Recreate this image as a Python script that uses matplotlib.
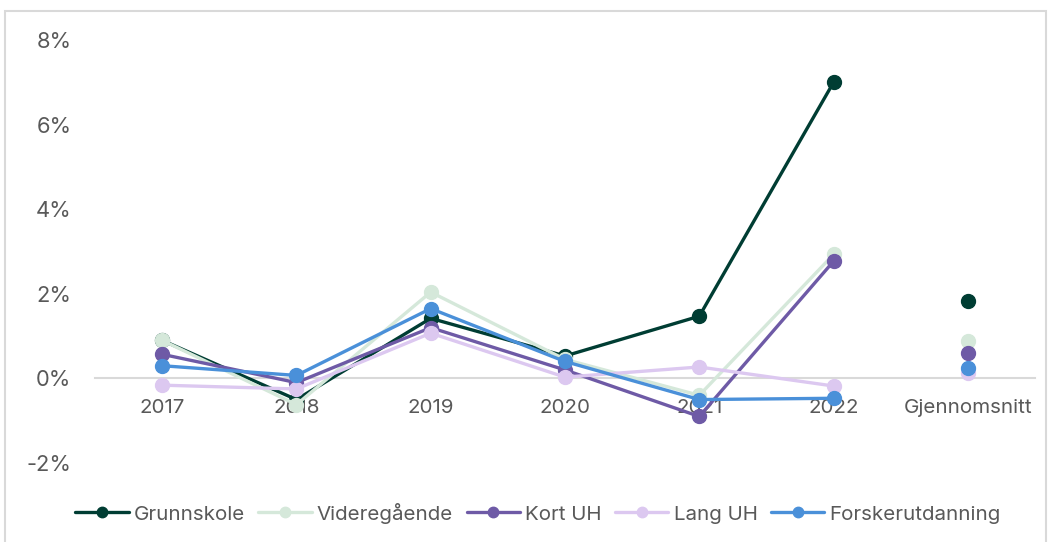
import matplotlib.pyplot as plt
from matplotlib.patches import Rectangle
from matplotlib.ticker import FuncFormatter

categories = ['2017', '2018', '2019', '2020', '2021', '2022', 'Gjennomsnitt']

# yearly values (%) for 2017-2022, then the average point
grunnskole = [0.90, -0.50, 1.42, 0.53, 1.47, 7.00]
grunnskole_avg = 1.82
videregaende = [0.90, -0.62, 2.04, 0.45, -0.40, 2.93]
videregaende_avg = 0.88
kort_uh = [0.57, -0.10, 1.20, 0.20, -0.90, 2.77]
kort_uh_avg = 0.61
lang_uh = [-0.16, -0.25, 1.07, 0.03, 0.27, -0.18]
lang_uh_avg = 0.12
forsker = [0.30, 0.07, 1.65, 0.40, -0.50, -0.47]
forsker_avg = 0.24

series = [
    ('Grunnskole', grunnskole, grunnskole_avg, '#003D33'),
    ('Videregående', videregaende, videregaende_avg, '#D5E8DA'),
    ('Kort UH', kort_uh, kort_uh_avg, '#6E5AA6'),
    ('Lang UH', lang_uh, lang_uh_avg, '#DCC8F0'),
    ('Forskerutdanning', forsker, forsker_avg, '#4A90D9'),
]

plt.rcParams['font.family'] = ['Inter', 'DejaVu Sans']
text_color = '#595959'

fig = plt.figure(figsize=(10.51, 5.42), dpi=100)
fig.patches.append(Rectangle((5 / 1051, -0.1), 1041 / 1051, 1.1 - 11 / 542,
                             transform=fig.transFigure, fill=False,
                             edgecolor='#D9D9D9', linewidth=1.5))

ax = fig.add_axes([95 / 1051, (542 - 463) / 542, 940 / 1051, 423 / 542])

x_years = list(range(len(categories) - 1))
avg_x = len(categories) - 1
for name, values, avg, color in series:
    ax.plot(x_years, values, color=color, linewidth=2.4, marker='o',
            markersize=10, label=name, solid_capstyle='round')
    ax.plot([avg_x], [avg], color=color, marker='o', markersize=10,
            linestyle='none')

ax.set_xlim(-0.5, 6.5)
ax.set_ylim(-2, 8)
ax.set_yticks([-2, 0, 2, 4, 6, 8])
ax.yaxis.set_major_formatter(FuncFormatter(lambda v, p: f'{v:.0f}%'))
ax.set_xticks(range(len(categories)))
ax.set_xticklabels(categories)

for s in ['top', 'right', 'left']:
    ax.spines[s].set_visible(False)
ax.spines['bottom'].set_position(('data', 0))
ax.spines['bottom'].set_color('#D9D9D9')
ax.spines['bottom'].set_linewidth(1.5)
ax.spines['bottom'].set_zorder(0)

ax.tick_params(axis='x', length=0, pad=15, labelsize=14.8, labelcolor=text_color)
ax.tick_params(axis='y', length=0, pad=17, labelsize=15.8, labelcolor=text_color)

handles, labels = ax.get_legend_handles_labels()
leg = fig.legend(handles, labels, loc='center', bbox_to_anchor=(538 / 1051, 1 - 513 / 542),
                 ncol=5, frameon=False, fontsize=14.8, handlelength=2.6,
                 handletextpad=0.25, columnspacing=0.65, markerscale=0.75)
for t in leg.get_texts():
    t.set_color(text_color)

fig.savefig('out.png', dpi=100)
